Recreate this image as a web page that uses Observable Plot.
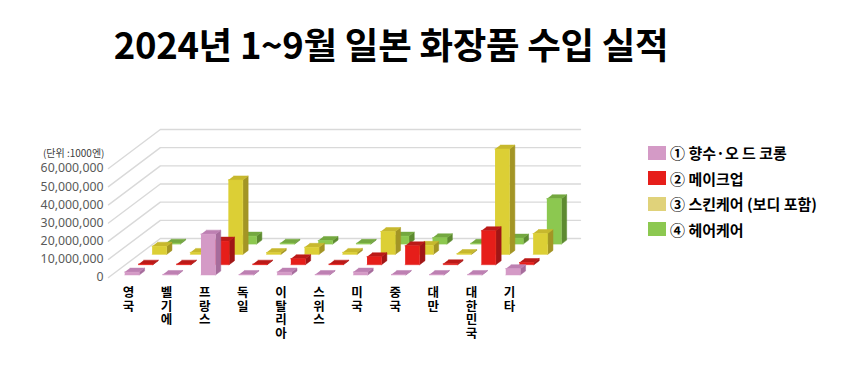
<!DOCTYPE html>
<html><head><meta charset="utf-8">
<script src="https://cdn.jsdelivr.net/npm/d3@7"></script>
<script src="https://cdn.jsdelivr.net/npm/@observablehq/plot@0.6"></script>
<style>
body{margin:0;background:#fff;width:844px;height:376px;overflow:hidden;position:relative;font-family:"Noto Sans CJK KR","Noto Sans",sans-serif;}
#title{position:absolute;left:0;width:782px;text-align:center;top:21px;font-size:36.5px;font-weight:bold;line-height:46px;color:#000;letter-spacing:-0.3px;}
#chart{position:absolute;left:0;top:90px;}
#legend{position:absolute;left:648px;top:140px;}
.row{display:flex;align-items:center;height:25.5px;font-size:15px;font-weight:bold;color:#000;}
.sw{width:18px;height:14px;margin-right:4px;}
</style></head>
<body>
<div id="title">2024년 1~9월 일본 화장품 수입 실적</div>
<div id="chart"></div>
<div id="legend"></div>
<script>
const categories = ["영국","벨기에","프랑스","독일","이탈리아","스위스","미국","중국","대만","대한민국","기타"];
const seriesNames = ["① 향수·오 드 코롱","② 메이크업","③ 스킨케어 (보디 포함)","④ 헤어케어"];
const fragrance = [1.6e6, 0.3e6, 22.5e6, 0.3e6, 1.6e6, 0.3e6, 1.6e6, 0.3e6, 0.3e6, 0.3e6, 3.5e6];
const makeup    = [0.3e6, 0.3e6, 13e6, 0.3e6, 3.3e6, 0.3e6, 4.4e6, 10.4e6, 0.5e6, 18.7e6, 1.2e6];
const skincare  = [4.5e6, 1.1e6, 41e6, 1.0e6, 3.9e6, 1.1e6, 12.6e6, 5.0e6, 0.5e6, 58e6, 11.5e6];
const haircare  = [0.5e6, 0.5e6, 4.4e6, 0.5e6, 2.0e6, 0.4e6, 4.4e6, 3.5e6, 0.4e6, 3.3e6, 25e6];
const yTicks = [0, 10e6, 20e6, 30e6, 40e6, 50e6, 60e6];
const unitLabel = "(단위 :1000엔)";

const frontColors = ["#d49ac6", "#e61e1a", "#dccf35", "#8cc850"];
const topColors   = ["#bd80b2", "#bb1a18", "#c7b82e", "#74a840"];
const sideColors  = ["#a66c9c", "#a01616", "#a39525", "#5d8a30"];
const legendColors = ["#d49ac6", "#e61e1a", "#e0d27a", "#8cc850"];

const seriesValues = [fragrance, makeup, skincare, haircare];

// pseudo-3D geometry (pixel styling constants converted into data units)
const PXX = 10 / 381, PXY = 60e6 / 109, K = 1.33;
const D0 = 2.5, DSTEP = 10.3, BD = 4, HW = 7.25, WALL = 39;
const proj = (x, v, d) => ({x: x + K * d * PXX, y: v + d * PXY});

function faces(s) {
  const d = D0 + DSTEP * s;
  const front = [], top = [], side = [];
  seriesValues[s].forEach((v, i) => {
    const xc = i - K * D0 * PXX;
    const x0 = xc - HW * PXX, x1 = xc + HW * PXX;
    const id = s + "-" + i;
    [proj(x0, 0, d), proj(x1, 0, d), proj(x1, v, d), proj(x0, v, d)].forEach(p => front.push({...p, id}));
    [proj(x0, v, d), proj(x1, v, d), proj(x1, v, d + BD), proj(x0, v, d + BD)].forEach(p => top.push({...p, id}));
    [proj(x1, 0, d), proj(x1, 0, d + BD), proj(x1, v, d + BD), proj(x1, v, d)].forEach(p => side.push({...p, id}));
  });
  return {front, top, side};
}

const xL = -0.617, xR = 10.41;
const grid = [];
yTicks.forEach(t => {
  [proj(xL, t, 0), proj(xL, t, WALL), proj(xR, t, WALL)].forEach(p => grid.push({...p, t}));
});

const marks = [
  Plot.line(grid, {x: "x", y: "y", z: "t", stroke: "#d9d9d9", strokeWidth: 1.4})
];
for (let s = 3; s >= 0; s--) {
  const f = faces(s);
  marks.push(Plot.line(f.side, {x: "x", y: "y", z: "id", fill: sideColors[s], stroke: sideColors[s], strokeWidth: 0.5}));
  marks.push(Plot.line(f.top, {x: "x", y: "y", z: "id", fill: topColors[s], stroke: topColors[s], strokeWidth: 0.5}));
  marks.push(Plot.line(f.front, {x: "x", y: "y", z: "id", fill: frontColors[s], stroke: frontColors[s], strokeWidth: 0.5}));
}
marks.push(Plot.text(yTicks, {x: xL, y: d => d, text: d => d3.format(",")(d), dx: -5, textAnchor: "end", fontSize: 12.3, fill: "#595959", fontFamily: "Noto Sans"}));
marks.push(Plot.text([unitLabel], {x: xL, y: 60e6, text: d => d, dx: -4, dy: -15, textAnchor: "end", fontSize: 10, fill: "#404040"}));
marks.push(Plot.text(categories, {x: (d, i) => i, y: 0, text: d => Array.from(d).join("\n"), dx: -3.5, dy: 10, lineAnchor: "top", lineHeight: 1.08, fontSize: 12.5, fontWeight: "bold", fill: "#000"}));

const chart = Plot.plot({
  width: 844, height: 286, margin: 0,
  x: {domain: [0, 10], range: [131.5, 512.5], axis: null},
  y: {domain: [0, 60e6], range: [187, 78], axis: null},
  style: {fontFamily: "'Noto Sans CJK KR', 'Noto Sans', sans-serif", background: "transparent"},
  marks
});
document.getElementById("chart").append(chart);

const lg = document.getElementById("legend");
seriesNames.forEach((n, i) => {
  const r = document.createElement("div"); r.className = "row";
  const sw = document.createElement("div"); sw.className = "sw"; sw.style.background = legendColors[i];
  const tx = document.createElement("span"); tx.textContent = n;
  r.append(sw, tx); lg.append(r);
});
</script>
</body></html>
